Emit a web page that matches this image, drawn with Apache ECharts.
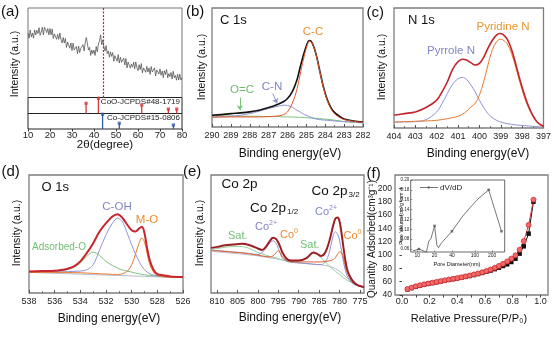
<!DOCTYPE html>
<html>
<head>
<meta charset="utf-8">
<script src="https://cdn.jsdelivr.net/npm/echarts@6/dist/echarts.min.js"></script>
<style>html,body{margin:0;padding:0;background:#fff}#c{width:554px;height:348px}</style>
</head>
<body>
<div id="c"></div>
<script>
const FONT = '"Liberation Sans", Arial, Helvetica, sans-serif';

// (a) XRD pattern, sampled every 0.5° from 10° to 80°
const xrdStart = 10, xrdStep = 0.5;
const xrdIntensity = [72,66.3,75.5,67.8,72,66.3,75.5,69.8,75,71.5,
  78,69.5,73,78.5,70,78.5,76,72.5,77,70,
  77,70,76.5,66,71,72.5,65,70.5,65,72,
  65,61,67,61,66,56,62,60,55,61,
  52.5,60.8,53.2,53.6,57,48.8,57.5,50.2,55,53.5,
  59,52,61,67,66,53,56,47,53,49,
  53,47,57,51,60,63,70,59,64,56.5,
  52,58,49,52,45,51,46,50.2,40.5,46.8,
  45,40.5,48,38.5,45,39.3,39.6,44,36.3,43.6,
  33,39.6,40.2,32.8,37.3,33.9,39.5,32.1,39.8,33.4,
  30,36.6,31.2,37.9,27.5,33,33.6,28.2,34.8,28.4,
  33,25.8,34.6,28.4,26.2,33.1,24,30.8,29.5,26.2,
  32,24.8,29.5,22.2,30,25.7,31.3,22,26.7,23.3,
  28,20.7,29.3,22,24.7,19.3,26,19.5,26,19.5,
  22];
const xrdMarker = 44.1;
const cooPeaks = [36.4, 42.0, 61.7, 73.8, 77.6];
const cooHeights = [64, 95, 53, 28, 28];
const coPeaks = [43.9, 51.5, 76.1];
const coHeights = [95, 37, 26];

// (b) C 1s
const cX = [290,289.5,289,288.5,288,287.5,287,286.5,286.2,286,285.75,285.5,285.3,285.1,284.95,284.85,284.7,284.5,284.3,284.1,283.9,283.7,283.5,283.2,283,282.5,282];
const cEnv = [35,37,40,42,45,50,58,68,76,85,105,140,185,225,250,258,252,220,170,120,83,58,43,30,24,18,15];
const cCC = [30,30,30,30,30,30,31,33,37,45,70,112,165,215,245,256,251,219,168,118,80,54,39,27,22,17,14];
const cCN = [28,30,32,35,40,47,55,62,65,64,59,50,44,37,34,31,28,24,22,21,20,19,18,17,16,15,13];
const cOC = [33,33,33,32,32,32,31,31,30,30,30,29,29,28,28,27,27,26,25,24,23,22,20,18,16,14,12];

// (c) N 1s
const nX = [404,403.5,403,402.5,402,401.75,401.5,401.25,401,400.8,400.6,400.4,400.2,400,399.8,399.6,399.4,399.2,399.05,398.9,398.7,398.5,398.3,398.1,397.9,397.7,397.5,397.3,397];
const nEnv = [38,43,48,61,83,108,138,176,198,205,203,195,188,193,211,238,261,277,282,279,265,235,191,143,101,65,38,18,5];
const nPyridine = [18,19,20,21,23,25,28,31,35,41,50,63,73,98,138,188,233,257,265,263,251,223,181,135,93,60,35,17,3];
const nPyrrole = [17,18,19,25,48,73,103,131,147,151,145,128,108,83,61,43,31,23,19,16,13,11,9,8,7,6,5,4,3];

// (d) O 1s
const oX = [538,537,536,535.5,535,534.5,534,533.5,533,532.5,532,531.5,531.1,530.7,530.3,530,529.7,529.45,529.2,529,528.8,528.6,528.3,528,527.5,527,526];
const oEnv = [65,66,67,69,73,80,95,120,150,185,210,230,237,225,203,189,185,193,199,180,135,100,70,57,53,50,48];
const oAds = [63,64,65,67,70,77,90,110,123,113,95,83,75,69,65,63,60,58,56,55,54,53,52,50,49,48,47];
const oCOH = [63,63,63,64,64,65,66,70,85,130,175,210,225,213,175,145,117,97,80,70,63,58,54,51,49,48,47];
const oMO = [62,62,62,62,62,61,61,60,59,58,57,56,56,58,67,85,117,147,165,153,120,87,63,53,49,48,47];
const oBaseX = [538, 526];
const oBase = [62, 46];

// (e) Co 2p
const eX = [811.5,810,808,806,804,802,800,799,798,797,796.3,795.5,795,794.5,794,793,792,790,788,786.4,785.5,784.5,783.5,782.5,781.5,781,780.5,780,779.5,779,778.5,778,777,776,775,774];
const eEnv = [135,138,143,145,147,143,133,129,139,157,165,161,151,137,121,103,97,97,105,121,117,111,121,155,205,223,226,215,178,133,93,65,40,27,21,18];
const eCo2 = [128,127,125,123,121,118,115,121,135,151,156,148,133,117,105,95,92,90,88,86,85,85,93,121,175,183,177,158,125,91,65,48,31,23,20,18];
const eCo0 = [127,126,124,122,120,117,113,111,109,108,111,121,126,121,108,98,94,93,93,93,93,93,94,96,100,106,116,123,121,103,78,58,35,25,20,18];
const eSat = [131,133,137,139,139,133,121,117,113,109,107,105,103,101,99,96,95,96,103,120,117,105,93,81,70,65,60,55,50,45,41,37,31,25,21,18];
const eBaseX = [811.5,800,795,790,785,782,780,778,776,774];
const eBase = [125,111,101,90,85,78,65,43,25,17];
const eTicks = [810,805,800,795,790,785,780,775];

// (f) N2 isotherm and pore size distribution
const pX = [0.04,0.07,0.10,0.13,0.16,0.19,0.22,0.25,0.28,0.31,0.34,0.37,0.40,0.43,0.46,0.49,0.52,0.55,0.58,0.61,0.64,0.67,0.70,0.73,0.76,0.79,0.82,0.85,0.88,0.915,0.95];
const adsorption = [48.5,50.5,52.5,54,55.5,56.8,58,59.2,60.4,61.6,62.8,63.9,65,66.1,67.3,68.6,70,71.5,73.1,74.8,76.7,78.8,81,83.5,86,89.5,94.5,102,113,132,180];
const desorption = [49,51,53,54.5,56,57.2,58.4,59.6,60.8,62,63.2,64.3,65.4,66.6,67.9,69.3,70.8,72.4,74.1,76,78.2,80.7,83.6,86.8,90.3,94.5,99.5,108,121,145,183];
const pTicks = [0, 0.2, 0.4, 0.6, 0.8, 1.0];
const pMinor = [0, 0.1, 0.2, 0.3, 0.4, 0.5, 0.6, 0.7, 0.8, 0.9, 1.0];
const qTicks = [40, 60, 80, 100, 120, 140, 160, 180, 200];
const dX = [8.4,10.7,12.6,14.4,15.9,17.3,20,21.9,23.4,25.7,30.7,40,60,84,117,174,290];
const dV = [0.056,0.060,0.0566,0.0534,0.076,0.081,0.107,0.068,0.0626,0.071,0.081,0.096,0.125,0.145,0.163,0.18,0.096];
const dMarked = [1, 6, 11, 15, 16];
const dTicks = [10, 20, 40, 100, 200];
const vTicks = [0.06, 0.08, 0.10, 0.12, 0.14, 0.16, 0.18, 0.20];

const pairs = (xs, ys) => xs.map((x, i) => [x, ys[i]]);

const C = {
  orange: '#ea7a2e', lav: '#8f93d3', green: '#7cc47e', gray: '#b9bccb',
  dark: '#111', red: '#c0252b', deep: '#9c1f24'
};

function curve(gi, xs, ys, color, width, extra) {
  return Object.assign({
    type: 'line', xAxisIndex: gi, yAxisIndex: gi, data: pairs(xs, ys),
    showSymbol: false, smooth: 0.35, silent: true,
    lineStyle: { color, width }, itemStyle: { color }
  }, extra || {});
}

const boxGrid = (left, top, width, height, color, bw) =>
  ({ left, top, width, height, show: true, borderColor: color || '#7d7d7d', borderWidth: bw || 1.3, backgroundColor: 'transparent' });

const tickLbl = (size, margin) => ({ fontSize: size, color: '#222', margin, fontFamily: FONT });

function xpsX(gi, min, max, extra) {
  return Object.assign({
    type: 'value', gridIndex: gi, min, max, inverse: true,
    axisLine: { show: false },
    axisTick: { show: true, inside: true, length: 3, lineStyle: { color: '#555' } },
    minorTick: { show: true, splitNumber: 2, length: 1.8, lineStyle: { color: '#666' } },
    axisLabel: tickLbl(9, 4),
    splitLine: { show: false }
  }, extra || {});
}
const hiddenY = (gi, min, max) => ({ type: 'value', gridIndex: gi, min, max, show: false });

function T(x, y, text, size, color, align, extra) {
  return Object.assign({
    type: 'text', x, y, silent: true,
    style: {
      text, fill: color || '#111', font: size + 'px ' + FONT,
      textAlign: align || 'left', align: align || 'left',
      textVerticalAlign: 'middle', verticalAlign: 'middle'
    }
  }, extra || {});
}
const V = (x, y, text, size) => T(x, y, text, size, '#111', 'center', { rotation: Math.PI / 2 });

const option = {
  animation: false,
  backgroundColor: '#fff',
  textStyle: { fontFamily: FONT },
  grid: [
    boxGrid(28, 8, 154, 89.5, '#777', 1),
    boxGrid(28, 97.5, 154, 16, '#222', 1),
    boxGrid(28, 113.5, 154, 15.5, '#222', 1),
    boxGrid(212, 8, 151, 119),
    boxGrid(394, 8, 154, 120),
    boxGrid(29, 175, 154, 118),
    boxGrid(211, 175, 153, 118),
    boxGrid(395, 175, 153, 120),
    Object.assign(boxGrid(410.7, 180, 94, 72, '#444', 0.8), { backgroundColor: '#fff' })
  ],
  xAxis: [
    { type: 'value', gridIndex: 0, min: 10, max: 80, show: false },
    { type: 'value', gridIndex: 1, min: 10, max: 80, show: false },
    { type: 'value', gridIndex: 2, min: 10, max: 80, interval: 10,
      axisLine: { show: false }, axisTick: { show: true, length: 2.5, lineStyle: { color: '#333' } },
      axisLabel: tickLbl(9.5, 1), splitLine: { show: false } },
    xpsX(3, 282, 290, { interval: 1 }),
    xpsX(4, 397, 404, { interval: 1 }),
    xpsX(5, 526, 538, { interval: 2 }),
    xpsX(6, 774, 811.5, {
      minorTick: { show: false },
      axisTick: { show: true, inside: true, length: 3, customValues: eTicks, lineStyle: { color: '#555' } },
      axisLabel: Object.assign(tickLbl(9, 4), { customValues: eTicks })
    }),
    { type: 'value', gridIndex: 7, min: -0.05, max: 1.055,
      axisLine: { show: false },
      axisTick: { show: true, length: 2.5, customValues: pMinor, lineStyle: { color: '#444' } },
      axisLabel: Object.assign(tickLbl(9, 2.5), { customValues: pTicks, formatter: v => v.toFixed(1) }),
      splitLine: { show: false } },
    { type: 'log', logBase: 10, gridIndex: 8, min: 7.7, max: 330,
      axisLine: { show: false },
      axisTick: { show: true, inside: true, length: 1.5, customValues: dTicks, lineStyle: { color: '#444', width: 0.6 } },
      axisLabel: Object.assign(tickLbl(5, 1.5), { customValues: dTicks }),
      splitLine: { show: false }, minorTick: { show: false } }
  ],
  yAxis: [
    hiddenY(0, 0, 100), hiddenY(1, 0, 100), hiddenY(2, 0, 100),
    hiddenY(3, 0, 355), hiddenY(4, 0, 358), hiddenY(5, 0, 355), hiddenY(6, 0, 353),
    { type: 'value', gridIndex: 7, min: 40, max: 220, interval: 20,
      axisLine: { show: false },
      axisTick: { show: true, length: 2.5, customValues: qTicks, lineStyle: { color: '#444' } },
      axisLabel: Object.assign(tickLbl(8.5, 3), { customValues: qTicks }),
      splitLine: { show: false } },
    { type: 'value', gridIndex: 8, min: 0.054, max: 0.2,
      axisLine: { show: false },
      axisTick: { show: true, inside: true, length: 1.5, customValues: vTicks, lineStyle: { color: '#444', width: 0.6 } },
      axisLabel: Object.assign(tickLbl(4.5, 1.5), { customValues: vTicks, formatter: v => v.toFixed(2) }),
      splitLine: { show: false } }
  ],
  series: [
    // (a)
    { type: 'line', xAxisIndex: 0, yAxisIndex: 0, silent: true, showSymbol: false,
      data: xrdIntensity.map((v, i) => [xrdStart + i * xrdStep, v]),
      lineStyle: { color: '#4d4d4d', width: 0.75 },
      markLine: { silent: true, symbol: 'none', label: { show: false },
        lineStyle: { color: '#a3284f', width: 1.2, type: [2, 1.5] },
        data: [{ xAxis: xrdMarker }] } },
    { type: 'bar', xAxisIndex: 1, yAxisIndex: 1, silent: true, barWidth: 1.3,
      data: pairs(cooPeaks, cooHeights), itemStyle: { color: '#d8363b' } },
    { type: 'scatter', xAxisIndex: 1, yAxisIndex: 1, silent: true, symbol: 'rect', symbolSize: 3.2,
      data: pairs(cooPeaks, cooHeights), itemStyle: { color: '#d8363b' } },
    { type: 'bar', xAxisIndex: 2, yAxisIndex: 2, silent: true, barWidth: 1.3,
      data: pairs(coPeaks, coHeights), itemStyle: { color: '#2f5ea8' } },
    { type: 'scatter', xAxisIndex: 2, yAxisIndex: 2, silent: true, symbol: 'rect', symbolSize: 3.2,
      data: pairs(coPeaks, coHeights), itemStyle: { color: '#2f5ea8' } },

    // (b)
    curve(3, cX, cOC, C.green, 1, {
      markLine: { silent: true, symbol: ['none', 'arrow'], symbolSize: 5, label: { show: false },
        lineStyle: { color: C.green, width: 1, type: 'solid' },
        data: [[{ coord: [288.52, 88] }, { coord: [288.52, 50] }]] } }),
    curve(3, cX, cCN, C.lav, 1, {
      markLine: { silent: true, symbol: ['none', 'arrow'], symbolSize: 5, label: { show: false },
        lineStyle: { color: C.lav, width: 1, type: 'solid' },
        data: [[{ coord: [286.78, 100] }, { coord: [286.55, 70] }]] } }),
    curve(3, cX, cEnv, C.dark, 1.6),
    curve(3, cX, cCC, '#e2582a', 1),

    // (c)
    curve(4, nX, nPyrrole, C.lav, 1),
    curve(4, nX, nPyridine, C.orange, 1),
    curve(4, nX, nEnv, C.red, 1.6),

    // (d)
    curve(5, oBaseX, oBase, C.gray, 1, { smooth: false }),
    curve(5, oX, oAds, C.green, 1),
    curve(5, oX, oCOH, C.lav, 1),
    curve(5, oX, oMO, C.orange, 1),
    curve(5, oX, oEnv, '#c8252c', 2),

    // (e)
    curve(6, eBaseX, eBase, C.gray, 1),
    curve(6, eX, eSat, '#8fd0a0', 1),
    curve(6, eX, eCo2, C.lav, 1),
    curve(6, eX, eCo0, '#e2622c', 1),
    curve(6, eX, eEnv, C.deep, 2),

    // (f)
    { type: 'line', xAxisIndex: 7, yAxisIndex: 7, silent: true, data: pairs(pX, adsorption),
      symbol: 'rect', symbolSize: 4.5, lineStyle: { color: '#111', width: 1 }, itemStyle: { color: '#111' } },
    { type: 'line', xAxisIndex: 7, yAxisIndex: 7, silent: true, data: pairs(pX, desorption),
      symbol: 'circle', symbolSize: 5, lineStyle: { color: '#e0393b', width: 1 },
      itemStyle: { color: '#ee6a6a', borderColor: '#d62d30', borderWidth: 0.8 } },
    { type: 'line', xAxisIndex: 8, yAxisIndex: 8, silent: true, data: pairs(dX, dV),
      showSymbol: false, lineStyle: { color: '#555', width: 0.8 } },
    { type: 'scatter', xAxisIndex: 8, yAxisIndex: 8, silent: true, symbol: 'rect', symbolSize: 2.5,
      data: dMarked.map(i => [dX[i], dV[i]]), itemStyle: { color: '#555' } }
  ],
  graphic: [
    // panel letters
    T(1, 12, '(a)', 15), T(186, 12, '(b)', 15), T(366.5, 12.5, '(c)', 15),
    T(1.5, 172, '(d)', 15), T(183, 172, '(e)', 15), T(366.5, 173.5, '(f)', 15),

    // (a)
    V(15, 64, 'Intensity (a.u.)', 10.5),
    T(105, 145, '2θ(degree)', 11.5, '#111', 'center'),
    T(180, 101.5, 'CoO-JCPDS#48-1719', 8, '#222', 'right'),
    T(180, 117.5, 'Co-JCPDS#15-0806', 8, '#222', 'right'),

    // (b)
    T(220, 20, 'C 1s', 13),
    T(313, 32, 'C-C', 11.5, '#e8922f', 'center'),
    T(272, 87, 'C-N', 11.5, '#7f83c6', 'center'),
    T(242, 90, 'O=C', 11.5, '#6dbb6f', 'center'),
    V(202, 67, 'Intensity (a.u.)', 10.5),
    T(290, 154, 'Binding energy(eV)', 12, '#111', 'center'),

    // (c)
    T(408, 20, 'N 1s', 13),
    T(503, 27, 'Pyridine N', 11.5, '#e8952f', 'center'),
    T(451, 51, 'Pyrrole N', 11.5, '#8285c8', 'center'),
    V(382, 67, 'Intensity (a.u.)', 10.5),
    T(478, 154, 'Binding energy(eV)', 12, '#111', 'center'),

    // (d)
    T(41.5, 187, 'O 1s', 13),
    T(117, 207, 'C-OH', 11.5, '#8285c8', 'center'),
    T(147, 220, 'M-O', 11.5, '#ea8a2c', 'center'),
    T(59, 247, 'Adsorbed-O', 10, '#6fbf72', 'center'),
    V(17, 233, 'Intensity (a.u.)', 10.5),
    T(109, 319, 'Binding energy(eV)', 12, '#111', 'center'),

    // (e)
    T(221.5, 184.5, 'Co 2p', 13.5),
    T(311.5, 191, 'Co 2p', 13.5), T(348.5, 194.5, '3/2', 8),
    T(250, 208.5, 'Co 2p', 13.5), T(287, 212, '1/2', 8),
    T(255, 227, 'Co', 11, '#8285c8'), T(269, 223, '2+', 7, '#8285c8'),
    T(280, 235, 'Co', 11, '#ea8a2c'), T(294, 231, '0', 7, '#ea8a2c'),
    T(228, 236, 'Sat.', 11, '#6fbf72'),
    T(300, 244.5, 'Sat.', 11, '#6fbf72'),
    T(315, 212, 'Co', 11, '#8285c8'), T(329, 208, '2+', 7, '#8285c8'),
    T(343.5, 236, 'Co', 11, '#ea8a2c'), T(357.5, 232, '0', 7, '#ea8a2c'),
    V(200, 233, 'Intensity (a.u.)', 10.5),
    T(290, 318, 'Binding energy(eV)', 12, '#111', 'center'),

    // (f)
    V(372, 239, 'Quantity Adsorbed(cm³g⁻¹)', 10),
    T(469, 319, 'Relative Pressure(P/P₀)', 11, '#111', 'center'),
    V(402, 216, 'Pore Volume(cm³g⁻¹nm⁻¹)', 5),
    T(457, 264, 'Pore Diameter(nm)', 5.5, '#111', 'center'),
    { type: 'line', silent: true, shape: { x1: 420, y1: 187.5, x2: 438, y2: 187.5 }, style: { stroke: '#555', lineWidth: 0.8 } },
    { type: 'rect', silent: true, shape: { x: 427.7, y: 186.5, width: 2, height: 2 }, style: { fill: '#555' } },
    T(440, 187.5, 'dV/dD', 8, '#222')
  ]
};

const chart = echarts.init(document.getElementById('c'), null, { renderer: 'canvas' });
chart.setOption(option);
</script>
</body>
</html>
